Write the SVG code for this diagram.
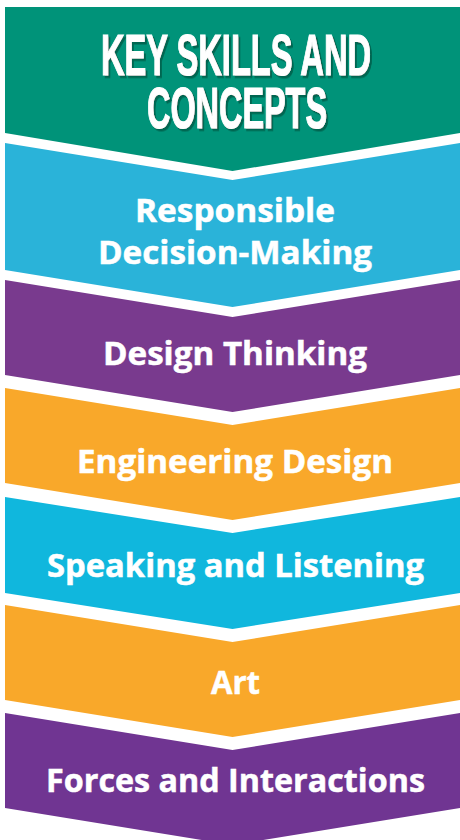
<svg xmlns="http://www.w3.org/2000/svg" width="460" height="840" viewBox="0 0 460 840">
<defs>
<filter id="shadow" x="-5%" y="-10%" width="115%" height="130%">
<feDropShadow dx="2" dy="2.5" stdDeviation="0.3" flood-color="#006651" flood-opacity="1"/>
</filter>
</defs>
<style>
.lbl{font-family:"Open Sans","Noto Sans","Liberation Sans",sans-serif;font-weight:700;font-size:32px;fill:#ffffff;text-anchor:middle;stroke:#ffffff;stroke-width:0.5}
.ttl{font-family:"Liberation Sans","DejaVu Sans",sans-serif;font-weight:700;font-size:58px;text-anchor:middle;fill:#ffffff;stroke:#ffffff;stroke-width:1.2;filter:url(#shadow)}
</style>
<rect width="460" height="840" fill="#ffffff"/>
<g id="title">
<polygon points="5,7 460,7 460,133 232.5,171 5,133" fill="#009379"/>
<text class="ttl" x="236" y="75" textLength="270" lengthAdjust="spacingAndGlyphs">KEY SKILLS AND</text>
<text class="ttl" x="237" y="128" textLength="180" lengthAdjust="spacingAndGlyphs">CONCEPTS</text>
</g>
<g id="responsible">
<polygon points="5,143 232.5,180 460,143 460,270 232.5,307 5,270" fill="#2ab3d9"/>
<text class="lbl" x="235" y="222" textLength="200" lengthAdjust="spacingAndGlyphs">Responsible</text>
<text class="lbl" x="235" y="264" textLength="274" lengthAdjust="spacingAndGlyphs">Decision-Making</text>
</g>
<g id="design-thinking">
<polygon points="5,280 232.5,317 460,280 460,375 232.5,412 5,375" fill="#793a8e"/>
<text class="lbl" x="235" y="365" textLength="264" lengthAdjust="spacingAndGlyphs">Design Thinking</text>
</g>
<g id="engineering">
<polygon points="5,388 232.5,425 460,388 460,483 232.5,520 5,483" fill="#f9a82a"/>
<text class="lbl" x="235" y="473" textLength="316" lengthAdjust="spacingAndGlyphs">Engineering Design</text>
</g>
<g id="speaking">
<polygon points="5,497 232.5,533 460,497 460,593 232.5,629 5,593" fill="#10b7dd"/>
<text class="lbl" x="235.5" y="577" textLength="377" lengthAdjust="spacingAndGlyphs">Speaking and Listening</text>
</g>
<g id="art">
<polygon points="5,605 232.5,642 460,605 460,700 232.5,737 5,700" fill="#f9a82a"/>
<text class="lbl" x="235.5" y="694" textLength="49" lengthAdjust="spacingAndGlyphs">Art</text>
</g>
<g id="forces">
<polygon points="5,713 232.5,750 460,713 460,808 232.5,845 5,808" fill="#703592"/>
<text class="lbl" x="235.5" y="792" textLength="379" lengthAdjust="spacingAndGlyphs">Forces and Interactions</text>
</g>
<g id="connectors"></g>
</svg>
